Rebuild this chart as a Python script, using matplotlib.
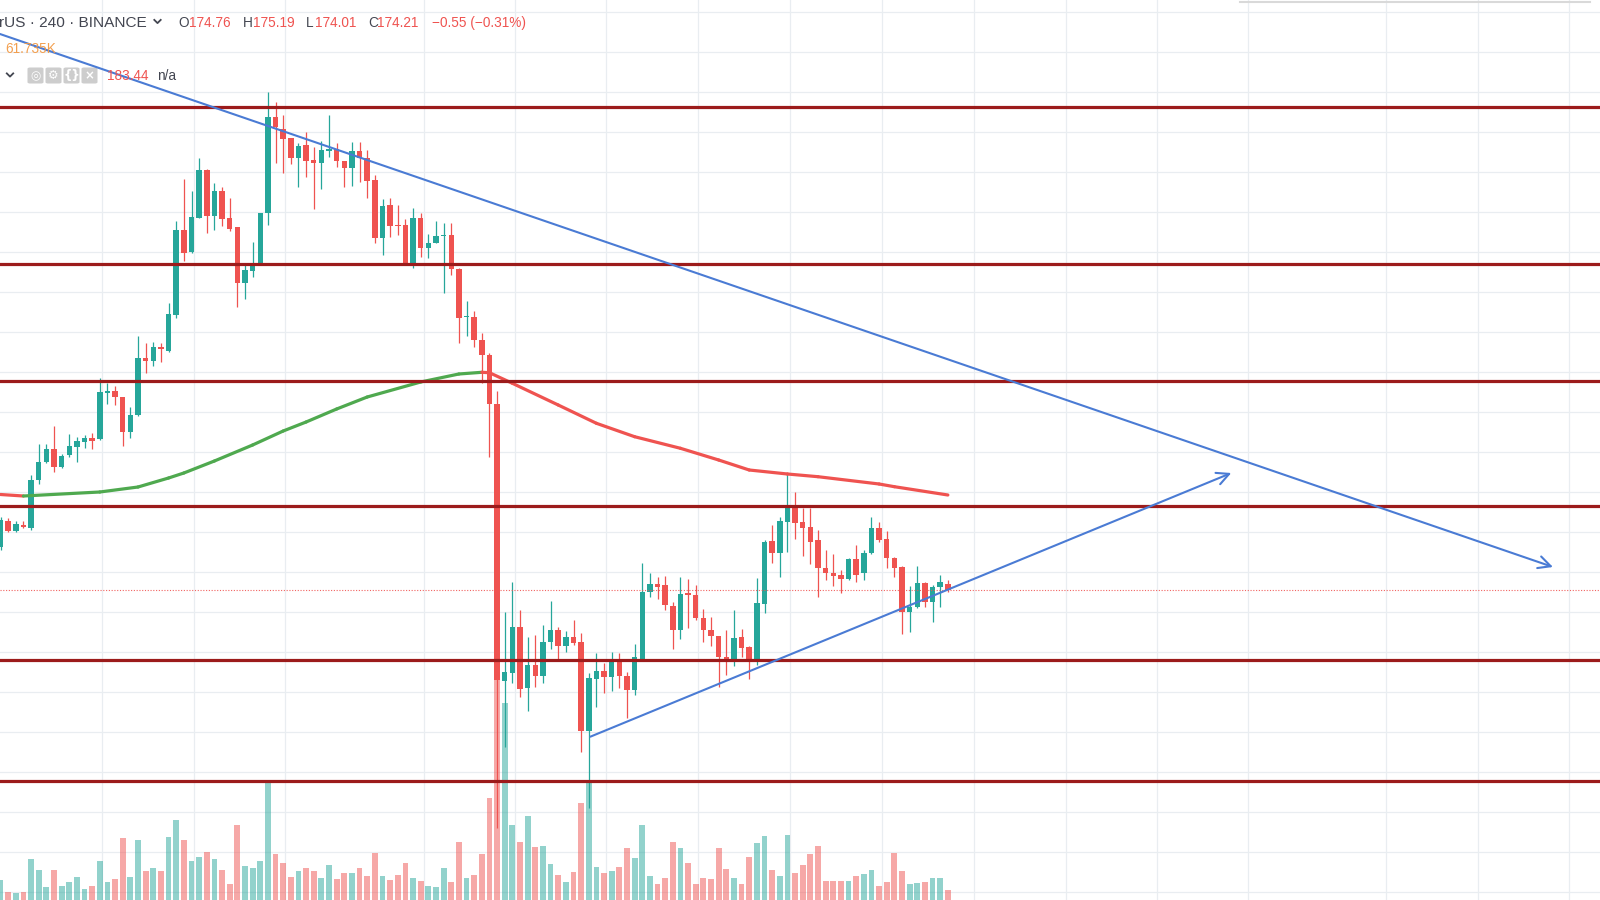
import matplotlib
matplotlib.use("Agg")
import matplotlib.pyplot as plt
import matplotlib.transforms as mtransforms
from matplotlib.patches import FancyBboxPatch
from matplotlib.lines import Line2D
import numpy as np

# ---------------- data (4h candles, BNB/USD style) ----------------
opens = [178.53, 181.13, 180.1, 180.7, 180.37, 185.2, 186.97, 188.3, 186.47, 187.7,
         188.53, 189.03, 189.37, 189.27, 193.93, 194.13, 193.53, 190.03, 191.7, 197.37,
         197.13, 198.53, 198.13, 201.7, 210.2, 207.97, 211.37, 216.2, 211.6, 214.1,
         211.37, 210.47, 204.93, 206.1, 206.8, 211.87, 221.53, 220.27, 219.43, 217.43,
         218.7, 217.2, 216.93, 218.1, 218.27, 217.1, 216.43, 218.13, 217.43, 215.2,
         209.43, 212.7, 210.7, 210.7, 206.8, 211.37, 208.37, 208.93, 209.57, 209.7,
         206.27, 201.47, 201.47, 199.2, 197.7, 192.8, 165.1, 165.87, 170.53, 164.43,
         166.7, 165.63, 168.97, 170.2, 168.6, 169.53, 169.03, 160.13, 165.3, 166.13,
         165.53, 167.27, 165.6, 164.2, 167.3, 173.97, 174.8, 174.7, 172.6, 170.2,
         173.87, 173.7, 171.37, 170.2, 169.63, 167.47, 167.3, 169.53, 168.53, 166.97,
         172.8, 179.13, 177.93, 181.03, 182.53, 180.97, 180.53, 179.2, 176.37, 175.87,
         175.7, 175.3, 177.27, 175.87, 177.87, 180.37, 179.27, 177.43, 176.47, 172.03,
         172.53, 174.87, 173.03, 174.53, 174.76]
highs = [181.53, 181.37, 181.13, 181.13, 185.7, 188.77, 188.77, 190.6, 187.77, 189.8,
         189.53, 189.7, 189.93, 195.43, 194.87, 194.63, 193.53, 192.53, 199.6, 198.87,
         199.03, 198.87, 202.87, 211.1, 215.27, 214.1, 217.37, 216.27, 214.93, 214.53,
         213.43, 210.47, 206.87, 209.03, 211.87, 224.03, 223.03, 221.7, 219.43, 218.87,
         220.03, 218.47, 219.13, 221.7, 218.93, 217.1, 219.03, 219.03, 218.2, 215.7,
         213.27, 213.37, 212.7, 211.27, 212.37, 211.87, 209.8, 211.13, 210.87, 210.93,
         206.37, 203.1, 202.1, 199.93, 197.87, 194.13, 171.97, 175.03, 172.2, 169.53,
         169.7, 170.7, 173.13, 170.53, 170.13, 171.2, 169.87, 165.87, 167.87, 166.87,
         168.03, 167.93, 166.03, 168.77, 176.87, 175.87, 175.53, 175.6, 173.03, 175.47,
         175.27, 174.7, 172.27, 171.53, 169.63, 170.2, 172.2, 170.27, 168.6, 175.37,
         179.2, 180.7, 181.53, 185.87, 184.03, 182.37, 182.37, 180.2, 178.2, 177.77,
         176.2, 177.4, 178.7, 178.2, 181.47, 180.97, 180.1, 177.53, 176.6, 174.6,
         176.6, 175.03, 174.7, 175.7, 175.19]
lows = [178.2, 179.97, 179.97, 180.37, 180.2, 184.8, 186.87, 186.03, 186.37, 187.53,
        187.03, 188.37, 188.27, 189.2, 192.8, 192.7, 188.6, 189.37, 191.6, 195.93,
        196.6, 197.03, 198.0, 201.37, 207.13, 207.87, 211.37, 209.93, 210.2, 210.6,
        210.13, 202.53, 203.27, 205.53, 206.8, 210.7, 216.87, 215.87, 216.8, 214.53,
        215.47, 212.27, 214.27, 217.53, 216.47, 214.53, 214.6, 215.03, 213.37, 208.87,
        207.7, 209.47, 209.7, 206.7, 206.37, 207.47, 207.37, 208.87, 203.87, 205.7,
        198.93, 199.6, 198.53, 194.93, 187.5, 150.4, 158.53, 164.87, 163.53, 162.13,
        164.53, 164.87, 168.27, 167.3, 168.03, 168.7, 158.03, 152.4, 162.47, 163.87,
        164.1, 164.37, 161.37, 163.7, 167.3, 173.53, 173.27, 172.2, 168.27, 169.27,
        170.37, 171.2, 168.97, 168.6, 164.53, 165.7, 166.63, 167.53, 165.3, 166.7,
        171.87, 176.93, 175.53, 178.03, 179.27, 177.6, 176.77, 173.47, 175.2, 174.6,
        173.93, 175.2, 175.03, 175.2, 177.8, 179.03, 176.37, 175.53, 169.8, 170.03,
        172.37, 172.53, 171.03, 172.53, 174.01]
closes = [181.2, 180.1, 180.77, 180.47, 185.2, 186.97, 188.3, 186.53, 187.63, 188.63,
          189.07, 189.43, 189.13, 193.97, 194.13, 193.53, 190.03, 191.7, 197.37, 197.13,
          198.47, 198.27, 201.8, 210.2, 207.87, 211.53, 216.2, 211.6, 214.1, 211.27,
          210.27, 204.93, 206.2, 206.7, 211.87, 221.53, 220.47, 219.27, 217.43, 218.6,
          217.13, 216.93, 218.2, 218.3, 217.13, 216.43, 218.13, 217.43, 215.13, 209.43,
          212.6, 210.6, 210.6, 206.8, 211.37, 208.37, 208.93, 209.63, 209.63, 206.27,
          201.43, 201.53, 199.2, 197.7, 192.8, 165.2, 166.03, 170.53, 164.3, 166.7,
          165.63, 169.03, 170.2, 168.6, 169.53, 168.93, 160.13, 165.37, 166.13, 165.53,
          167.27, 165.63, 164.2, 167.53, 174.03, 174.8, 174.47, 172.7, 170.2, 173.8,
          173.7, 171.37, 170.2, 169.6, 167.53, 167.3, 169.43, 168.37, 166.97, 172.93,
          179.03, 177.93, 181.1, 182.53, 180.93, 180.43, 179.03, 176.37, 175.87, 175.6,
          175.3, 177.27, 175.7, 177.87, 180.37, 179.2, 177.37, 176.37, 172.03, 172.53,
          174.87, 173.03, 174.53, 175.03, 174.21]
volume_k = [120, 50, 40, 50, 246, 180, 80, 180, 84, 106, 140, 64, 86, 234, 106, 128, 370, 140, 358, 172,
            194, 172, 376, 482, 358, 234, 258, 290, 246, 180, 94, 450, 206, 194, 234, 711, 278, 224, 140, 172,
            194, 172, 134, 212, 128, 160, 160, 194, 146, 284, 146, 120, 152, 224, 134, 114, 86, 80, 194, 108,
            350, 134, 152, 278, 614, 1320, 1185, 448, 350, 502, 318, 324, 218, 152, 106, 166, 580, 714, 198, 160,
            172, 198, 310, 252, 448, 146, 94, 134, 350, 310, 224, 94, 134, 128, 310, 186, 134, 94, 258, 342,
            382, 180, 146, 390, 160, 212, 278, 324, 114, 114, 114, 114, 146, 154, 180, 86, 108, 284, 172, 94,
            100, 106, 134, 134, 62]

# moving average (sampled at candle indices)
ma_idx = [0, 3, 13, 18, 22, 24, 28, 33, 37, 40, 44, 48, 55, 60, 63, 64, 67, 73, 78, 83, 89, 94, 98, 103, 107, 115, 117, 124]
ma_val = [183.75, 183.6, 184.0, 184.5, 185.4, 185.9, 187.1, 188.7, 190.1, 191.0, 192.3, 193.5, 195.0, 195.8, 195.97,
          195.93, 194.87, 192.7, 190.87, 189.53, 188.37, 187.2, 186.2, 185.8, 185.53, 184.8, 184.53, 183.7]

levels = [222.53, 206.77, 195.1, 182.6, 167.2, 155.13]
trend_down = [(-0.07, 229.8), (203.2, 176.5)]
trend_up = [(77.2, 159.53), (161.1, 185.9)]
last_price = 174.21
ma_last = 183.44
last_volume = "61.735K"
vgrid_idx = [13.25, 25.3, 37.3, 55.4, 67.4, 79.3, 91.3, 103.3, 115.4, 127.4, 139.5, 151.4, 163.3, 181.3, 193.4, 205.3]
hgrid_prices = list(range(144, 236, 4))

# ---------------- style ----------------
UP = "#26a69a"
DN = "#ef5350"
LEVEL = "#9c1b1b"
BLUE = "#4a7bd4"
MA_UP = "#4fa94f"
MA_DN = "#ef5350"
GRID = "#e9edf1"

W, H = 1600, 900
fig = plt.figure(figsize=(16, 9), dpi=100)
fig.patch.set_facecolor("white")

XMIN, XMAX = -0.5 / 7.64, (W - 0.5) / 7.64
YMIN, YMAX = 143.2, 233.2

axv = fig.add_axes([0, 0, 1, 1])
ax = fig.add_axes([0, 0, 1, 1], sharex=axv)
axv.set_zorder(1)
ax.set_zorder(2)
ax.patch.set_visible(False)
axv.set_facecolor("white")
for a in (ax, axv):
    a.set_axis_off()
ax.set_xlim(XMIN, XMAX)
ax.set_ylim(YMIN, YMAX)
axv.set_ylim(0, 5400)

# grid (on the back axes)
for gx in vgrid_idx:
    axv.axvline(gx, color=GRID, lw=0.9, zorder=0)
blend = mtransforms.blended_transform_factory(axv.transAxes, ax.transData)
for gp in hgrid_prices:
    axv.plot([0, 1], [gp, gp], transform=blend, color=GRID, lw=0.9, zorder=0)

n = len(opens)
idx = np.arange(n)
o = np.array(opens); h = np.array(highs); l = np.array(lows); c = np.array(closes)
up = c >= o
cols = np.where(up, UP, DN)

# volume
axv.bar(idx, volume_k, width=0.76, color=cols, alpha=0.5, linewidth=0, zorder=1)

# candles
ax.vlines(idx, l, h, colors=cols, lw=0.9, zorder=2)
bottoms = np.minimum(o, c)
heights = np.maximum(np.abs(c - o), 0.12)
ax.bar(idx, heights, bottom=bottoms, width=0.72, color=cols, linewidth=0, zorder=3)

# moving average, coloured by direction
for k in range(len(ma_idx) - 1):
    colr = MA_UP if ma_val[k + 1] >= ma_val[k] else MA_DN
    ax.plot(ma_idx[k:k + 2], ma_val[k:k + 2], color=colr, lw=2.3, solid_capstyle="round", zorder=4)

# last price dotted line
ax.axhline(last_price, color=DN, lw=0.8, ls=(0, (1, 1.5)), alpha=0.9, zorder=4)

# horizontal levels
for lv in levels:
    ax.axhline(lv, color=LEVEL, lw=2.3, zorder=5)

# trend lines with arrows
for (x0, y0), (x1, y1) in (trend_down, trend_up):
    ax.annotate("", xy=(x1, y1), xytext=(x0, y0),
                arrowprops=dict(arrowstyle="->", color=BLUE, lw=1.5, mutation_scale=22,
                                shrinkA=0, shrinkB=0), zorder=6)

# ---------------- header ----------------
def fx(x):
    return x / W

def fy(y):
    return 1 - y / H

FONT = "Liberation Sans"
GRAY = "#434651"
fig.text(fx(-1), fy(23), "rUS \u00b7 240 \u00b7 BINANCE", fontsize=11.1, color=GRAY,
         family=FONT, va="center", ha="left")

def chevron(xc, yc, s=3.2, color=GRAY):
    fig.add_artist(Line2D([fx(xc - s), fx(xc), fx(xc + s)], [fy(yc - s / 2), fy(yc + s / 2), fy(yc - s / 2)],
                          transform=fig.transFigure, color=color, lw=1.3))

chevron(157.5, 21.5)
tokens = [("O", 178.7, GRAY), ("174.76", 189.5, DN), ("H", 243, GRAY), ("175.19", 253, DN),
          ("L", 306, GRAY), ("174.01", 314.5, DN), ("C", 368.5, GRAY), ("174.21", 377, DN),
          ("\u22120.55 (\u22120.31%)", 432.5, DN)]
for t, x, colr in tokens:
    fig.text(fx(x), fy(23), t, fontsize=9.8, color=colr, family=FONT, va="center", ha="left")

fig.text(fx(5.5), fy(49), last_volume, fontsize=9.8, color="#f29a45", family=FONT, va="center",
         ha="left", alpha=0.95)

chevron(10, 75)
icons = ["\u25ce", "\u2699", "{}", "\u00d7"]
for k, sym in enumerate(icons):
    x0 = 27.5 + k * 18
    box = FancyBboxPatch((fx(x0), fy(83.5)), 16 / W, 16 / H, boxstyle="round,pad=0,rounding_size=0.0015",
                         transform=fig.transFigure, facecolor="#cdcdcd", edgecolor="none")
    fig.add_artist(box)
    fig.text(fx(x0 + 8), fy(75.5), sym, fontsize=8.5, color="white", family="DejaVu Sans",
             va="center", ha="center", fontweight="bold")
fig.text(fx(106.5), fy(76), f"{ma_last:.2f}", fontsize=9.8, color=DN, family=FONT, va="center", ha="left")
fig.text(fx(157), fy(76), "n/a", fontsize=9.8, color=GRAY, family=FONT, va="center", ha="left")

# top-right toolbar edge
fig.add_artist(Line2D([fx(1240), fx(1590)], [fy(1.5), fy(1.5)], transform=fig.transFigure,
                      color="#d9d9d9", lw=1.5))

fig.savefig("out.png", dpi=100, facecolor="white")
